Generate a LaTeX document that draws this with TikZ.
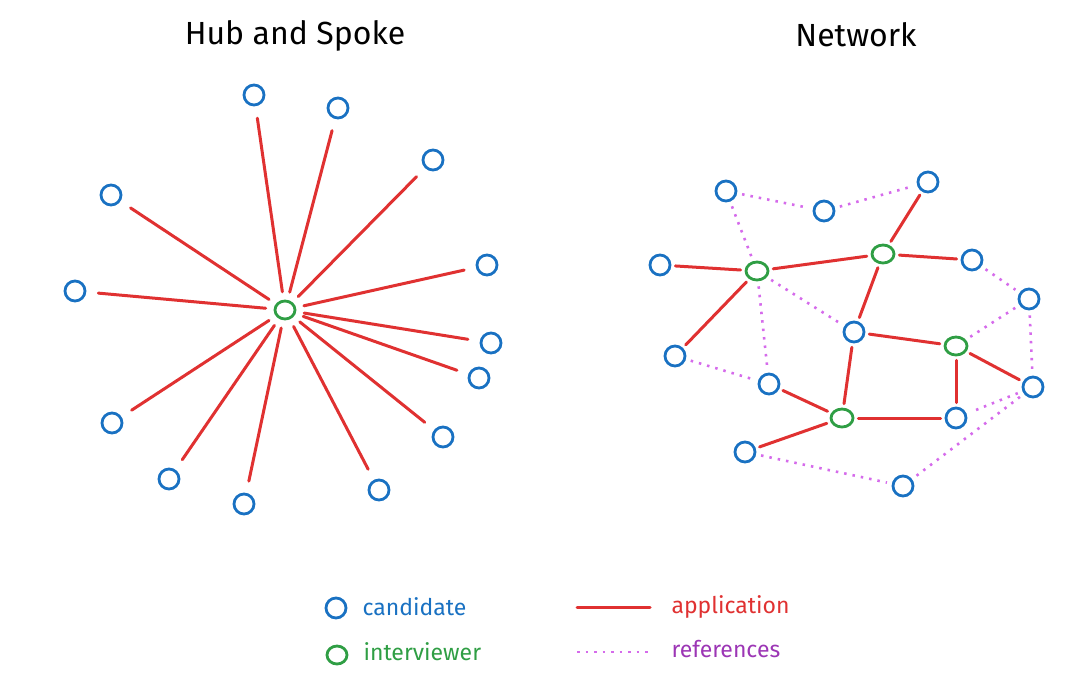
\documentclass[tikz,border=0pt]{standalone}
\usepackage{fontspec}
\setmainfont{Fira Sans}
\usetikzlibrary{shapes.geometric}
\definecolor{cblue}{HTML}{1971C2}
\definecolor{cgreen}{HTML}{2F9E44}
\definecolor{cred}{HTML}{E03131}
\definecolor{cviolet}{HTML}{D56BEB}
\definecolor{cpurple}{HTML}{9C36B5}
\tikzset{
  cand/.style={circle,draw=cblue,line width=2.8pt,minimum size=20pt,inner sep=0pt},
  inter/.style={ellipse,draw=cgreen,line width=2.8pt,minimum width=22pt,minimum height=18pt,inner sep=0pt},
  hubnode/.style={ellipse,draw=cgreen,line width=2.8pt,minimum width=20pt,minimum height=18pt,inner sep=0pt},
  app/.style={draw=cred,line width=3pt,line cap=round},
  ref/.style={draw=cviolet,line width=2.6pt,dash pattern=on 2.5pt off 6pt},
  spoke/.style={app,shorten <=8pt,shorten >=12pt},
  netapp/.style={app,shorten <=4pt,shorten >=4pt},
  netref/.style={ref,shorten <=5pt,shorten >=5pt},
  title/.style={font=\fontsize{32}{38}\selectfont,anchor=base},
  legtext/.style={font=\fontsize{23}{28}\selectfont,anchor=base west}
}
\begin{document}
\begin{tikzpicture}[x=1pt,y=-1pt]
\useasboundingbox (0,0) rectangle (1084,683);
% titles
\node[title] (t1) at (295,44) {Hub and Spoke};
\node[title] (t2) at (856,46) {Network};
% hub and spoke
\node[hubnode] (hub) at (285,310) {};
\node[cand] (s1) at (254,95) {};
\node[cand] (s2) at (338,108) {};
\node[cand] (s3) at (433,160) {};
\node[cand] (s4) at (111,195) {};
\node[cand] (s5) at (487,265) {};
\node[cand] (s6) at (75,291) {};
\node[cand] (s7) at (491,343) {};
\node[cand] (s8) at (479,378) {};
\node[cand] (s9) at (112,423) {};
\node[cand] (s10) at (443,437) {};
\node[cand] (s11) at (169,479) {};
\node[cand] (s12) at (379,490) {};
\node[cand] (s13) at (244,504) {};
\foreach \s in {s1,s2,s3,s4,s5,s6,s7,s8,s9,s10,s11,s12,s13}
  \draw[spoke] (hub) -- (\s);
% network
\node[cand] (n1) at (726,191) {};
\node[cand] (n2) at (824,211) {};
\node[cand] (n3) at (928,182) {};
\node[inter] (g1) at (757,271) {};
\node[inter] (g2) at (883,254) {};
\node[cand] (n4) at (660,265) {};
\node[cand] (n5) at (972,260) {};
\node[cand] (n6) at (1029,299) {};
\node[cand] (n7) at (854,332) {};
\node[inter] (g3) at (956,346) {};
\node[cand] (n8) at (675,356) {};
\node[cand] (n9) at (769,384) {};
\node[cand] (n10) at (1033,387) {};
\node[inter] (g4) at (842,418) {};
\node[cand] (n11) at (956,418) {};
\node[cand] (n12) at (745,452) {};
\node[cand] (n13) at (903,486) {};
% applications
\draw[netapp] (n4) -- (g1);
\draw[netapp] (g1) -- (g2);
\draw[netapp] (g2) -- (n3);
\draw[netapp] (g2) -- (n5);
\draw[netapp] (g1) -- (n8);
\draw[netapp] (g2) -- (n7);
\draw[netapp] (n7) -- (g3);
\draw[netapp] (g3) -- (n11);
\draw[netapp] (g3) -- (n10);
\draw[netapp] (n7) -- (g4);
\draw[netapp] (n9) -- (g4);
\draw[netapp] (g4) -- (n11);
\draw[netapp] (g4) -- (n12);
% references
\draw[netref] (n1) -- (n2);
\draw[netref] (n2) -- (n3);
\draw[netref] (n1) -- (g1);
\draw[netref] (g1) -- (n9);
\draw[netref] (g1) -- (n7);
\draw[netref] (n8) -- (n9);
\draw[netref] (n5) -- (n6);
\draw[netref] (n6) -- (g3);
\draw[netref] (n6) -- (n10);
\draw[netref] (n10) -- (n11);
\draw[netref] (n10) -- (n13);
\draw[netref] (n12) -- (n13);
% legend
\node[cand] (lc) at (336,608) {};
\node[legtext,text=cblue] (ltc) at (359,615) {candidate};
\node[hubnode] (lg) at (337,655) {};
\node[legtext,text=cgreen] (ltg) at (360,660) {interviewer};
\coordinate (la1) at (577,607);
\coordinate (la2) at (650,607);
\draw[app] (la1) -- (la2);
\node[legtext,text=cred] (lta) at (668,613) {application};
\coordinate (lr1) at (577,652);
\coordinate (lr2) at (650,652);
\draw[ref] (lr1) -- (lr2);
\node[legtext,text=cpurple] (ltr) at (668,657) {references};
\end{tikzpicture}
\end{document}
